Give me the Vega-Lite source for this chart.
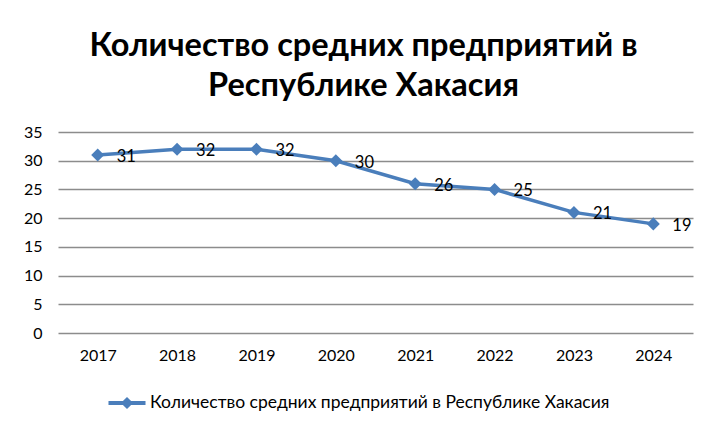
{
  "$schema": "https://vega.github.io/schema/vega-lite/v6.json",
  "width": 635,
  "height": 201,
  "autosize": {"type": "none"},
  "padding": {"left": 58, "top": 132, "right": 27, "bottom": 102},
  "background": "white",
  "config": {
    "font": "Lato",
    "view": {"stroke": null}
  },
  "title": {
    "text": ["Количество средних предприятий в", "Республике Хакасия"],
    "font": "Lato",
    "fontSize": 32.5,
    "fontWeight": "bold",
    "color": "#000000",
    "lineHeight": 40,
    "anchor": "middle",
    "dx": -12,
    "offset": 22
  },
  "data": {
    "values": [
      {"year": "2017", "value": 31},
      {"year": "2018", "value": 32},
      {"year": "2019", "value": 32},
      {"year": "2020", "value": 30},
      {"year": "2021", "value": 26},
      {"year": "2022", "value": 25},
      {"year": "2023", "value": 21},
      {"year": "2024", "value": 19}
    ]
  },
  "encoding": {
    "x": {
      "field": "year", "type": "ordinal",
      "scale": {"type": "point", "padding": 0.5},
      "axis": {"title": null, "labelAngle": 0, "ticks": false, "domain": false, "labelFontSize": 16, "labelColor": "#000000", "labelPadding": 14, "labelFont": "Lato"}
    },
    "y": {
      "field": "value", "type": "quantitative",
      "scale": {"domain": [0, 35]},
      "axis": {"title": null, "values": [0,5,10,15,20,25,30,35], "ticks": false, "domain": false, "gridColor": "#8c8c8c", "gridWidth": 1.5, "labelFontSize": 16, "labelColor": "#000000", "labelPadding": 16, "labelFont": "Lato"}
    }
  },
  "layer": [
    {
      "mark": {"type": "line", "strokeWidth": 3.5},
      "encoding": {
        "color": {
          "datum": "Количество средних предприятий в Республике Хакасия",
          "scale": {"range": ["#4A7EBB"]},
          "legend": {
            "title": null,
            "orient": "none",
            "legendX": 50,
            "legendY": 252,
            "symbolType": "M-1,-0.11L1,-0.11L1,0.11L-1,0.11Z M0,-0.33L0.33,0L0,0.33L-0.33,0Z",
            "symbolSize": 1370,
            "symbolStrokeWidth": 0,
            "symbolFillColor": "#4A7EBB",
            "symbolOpacity": 1,
            "labelFontSize": 17.5,
            "labelColor": "#000000",
            "labelLimit": 650,
            "labelOffset": 4,
            "labelFont": "Lato"
          }
        }
      }
    },
    {
      "mark": {"type": "point", "shape": "diamond", "filled": true, "size": 170, "color": "#4A7EBB", "opacity": 1}
    },
    {
      "mark": {"type": "text", "align": "left", "dx": 19, "dy": 2, "fontSize": 16.5, "color": "#000000", "font": "Lato"},
      "encoding": {"text": {"field": "value", "type": "quantitative"}}
    }
  ]
}
